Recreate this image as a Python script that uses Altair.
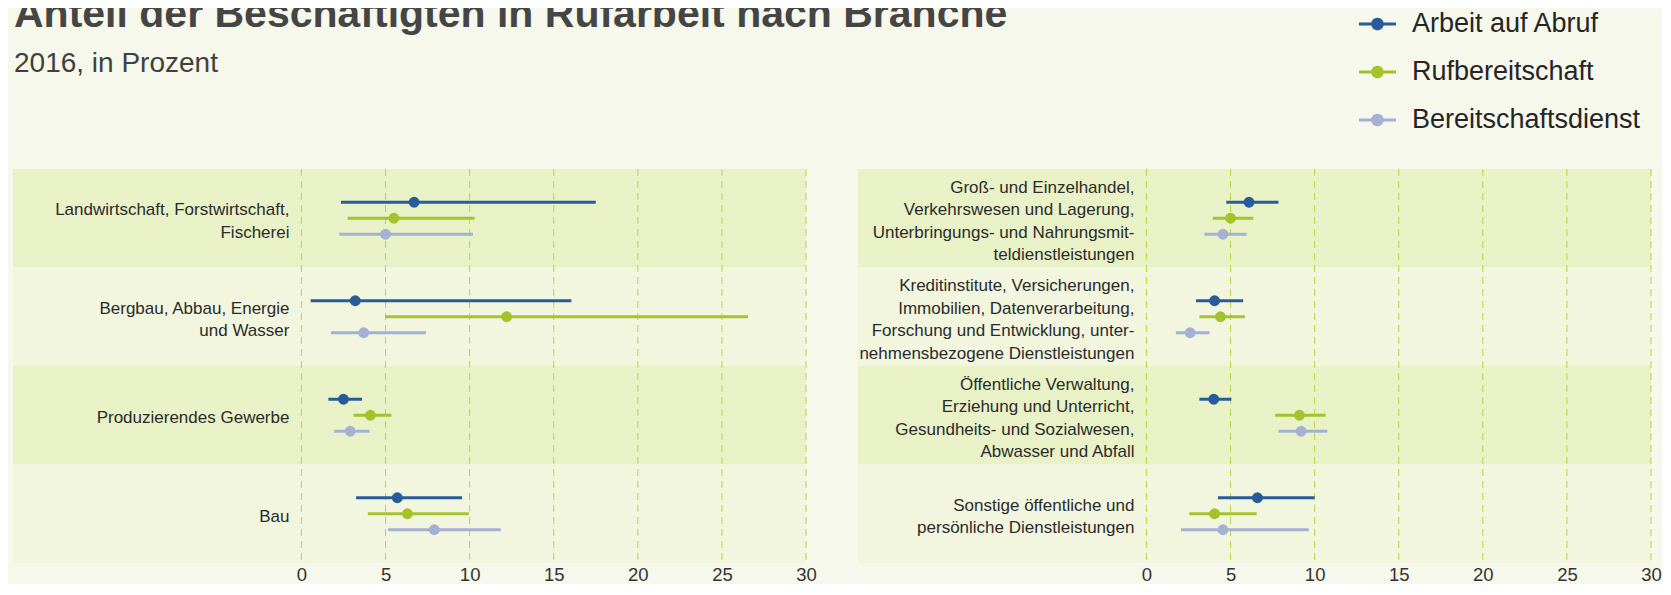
import altair as alt
import pandas as pd

FONT = "Liberation Sans"

# ---- data ----
serien = ["Arbeit auf Abruf", "Rufbereitschaft", "Bereitschaftsdienst"]
farben = ["#275b9a", "#a5c22c", "#a4b1d5"]

branchen_links = [
    "Landwirtschaft, Forstwirtschaft,|Fischerei",
    "Bergbau, Abbau, Energie|und Wasser",
    "Produzierendes Gewerbe",
    "Bau",
]
branchen_rechts = [
    "Groß- und Einzelhandel,|Verkehrswesen und Lagerung,|Unterbringungs- und Nahrungsmit-|teldienstleistungen",
    "Kreditinstitute, Versicherungen,|Immobilien, Datenverarbeitung,|Forschung und Entwicklung, unter-|nehmensbezogene Dienstleistungen",
    "Öffentliche Verwaltung,|Erziehung und Unterricht,|Gesundheits- und Sozialwesen,|Abwasser und Abfall",
    "Sonstige öffentliche und|persönliche Dienstleistungen",
]

# order: 4 left branches, then 4 right branches
abruf_wert  = [6.7, 3.2, 2.5, 5.7, 6.1, 4.05, 4.0, 6.6]
abruf_unten = [2.35, 0.55, 1.6, 3.25, 4.75, 2.95, 3.15, 4.25]
abruf_oben  = [17.5, 16.05, 3.6, 9.55, 7.85, 5.75, 5.05, 10.0]

ruf_wert  = [5.5, 12.2, 4.1, 6.3, 5.0, 4.4, 9.1, 4.05]
ruf_unten = [2.75, 5.0, 3.1, 3.95, 3.95, 3.15, 7.65, 2.55]
ruf_oben  = [10.3, 26.55, 5.35, 9.95, 6.35, 5.85, 10.65, 6.55]

dienst_wert  = [5.0, 3.7, 2.9, 7.9, 4.55, 2.6, 9.2, 4.55]
dienst_unten = [2.25, 1.75, 1.95, 5.15, 3.45, 1.75, 7.85, 2.05]
dienst_oben  = [10.2, 7.4, 4.05, 11.85, 5.95, 3.75, 10.75, 9.65]

ticks = [0, 5, 10, 15, 20, 25, 30]

# ---- tables ----
branchen = branchen_links + branchen_rechts
rows = []
for serie, w, u, o in zip(
    serien,
    [abruf_wert, ruf_wert, dienst_wert],
    [abruf_unten, ruf_unten, dienst_unten],
    [abruf_oben, ruf_oben, dienst_oben],
):
    for b, wi, ui, oi in zip(branchen, w, u, o):
        rows.append({"branche": b, "serie": serie, "wert": wi, "unten": ui, "oben": oi})
df = pd.DataFrame(rows)

x_scale = alt.Scale(domain=[-17.15, 30], nice=False, zero=False)
x_axis = alt.Axis(
    values=ticks, domain=False, ticks=False, tickSize=0, grid=False,
    labelFontSize=18.5, labelColor="#333333", labelPadding=2, labelFlush=False,
    labelOverlap=False, title=None, format="d", labelFont=FONT,
)
color_scale = alt.Scale(domain=serien, range=farben)
legend = alt.Legend(
    orient="none", legendX=1346, legendY=-163.5, direction="vertical", title=None,
    symbolType="M-1,-0.08H1V0.08H-1Z M0.34,0A0.34,0.34,0,1,1,-0.34,0A0.34,0.34,0,1,1,0.34,0Z",
    symbolSize=1369, symbolStrokeWidth=0, symbolOpacity=1,
    labelFont=FONT, labelFontSize=27, labelColor="#252525", labelOffset=16,
    labelLimit=500, rowPadding=16,
)

W, H = 793, 394


def panel(names):
    d = df[df["branche"].isin(names)]
    bands = pd.DataFrame({"branche": names, "streifen": [i % 2 for i in range(len(names))]})
    y = alt.Y("branche:N", sort=names, scale=alt.Scale(paddingInner=0, paddingOuter=0), axis=None)
    yoff = alt.YOffset("serie:N", sort=serien, scale=alt.Scale(paddingInner=0, paddingOuter=0, range=[25.25, 73.25]))

    band_layer = alt.Chart(bands).mark_rect().encode(
        y=y,
        x=alt.value(0),
        x2=alt.value("width"),
        fill=alt.Fill("streifen:O", scale=alt.Scale(domain=[0, 1], range=["#e9f1c7", "#f2f6df"]), legend=None),
    )
    label_layer = alt.Chart(bands).mark_text(
        align="right", baseline="middle", lineBreak="|", font=FONT, fontSize=17,
        lineHeight=22.5, color="#2b2b2b", dx=-12,
        dy={"expr": "3 - (length(split(datum.branche, '|')) - 1) * 11.25"},
    ).encode(
        y=y,
        x=alt.datum(0, scale=x_scale, axis=x_axis),
        text="branche:N",
    )
    grid_layer = alt.Chart(pd.DataFrame({"t": ticks})).mark_rule(
        color="#bcd630", strokeDash=[7, 5], strokeWidth=1
    ).encode(x=alt.X("t:Q", scale=x_scale, axis=x_axis))
    rule_layer = alt.Chart(d).mark_rule(strokeWidth=3, strokeCap="butt").encode(
        x=alt.X("unten:Q", scale=x_scale, axis=x_axis),
        x2="oben:Q",
        y=y,
        yOffset=yoff,
        color=alt.Color("serie:N", scale=color_scale, legend=legend),
    )
    point_layer = alt.Chart(d).mark_point(filled=True, size=120, opacity=1).encode(
        x=alt.X("wert:Q", scale=x_scale, axis=x_axis),
        y=y,
        yOffset=yoff,
        color=alt.Color("serie:N", scale=color_scale, legend=legend),
    )
    return alt.layer(band_layer, grid_layer, label_layer, rule_layer, point_layer).properties(width=W, height=H)


chart = alt.hconcat(panel(branchen_links), panel(branchen_rechts), spacing=41).resolve_scale(
    color="shared", x="independent", y="independent"
).properties(
    title=alt.TitleParams(
        text="Anteil der Beschäftigten in Rufarbeit nach Branche",
        subtitle="2016, in Prozent",
        anchor="start", frame="group",
        font=FONT, fontSize=41, fontWeight="bold", color="#454545",
        subtitleFont=FONT, subtitleFontSize=28, subtitleColor="#404040",
        subtitlePadding=14, offset=-73, dx=1,
    ),
    background="#f5f8ea",
    padding={"left": 5, "top": -15, "right": 0, "bottom": 0},
).configure_view(stroke=None)

chart.save("out.html", embed_options={"renderer": "svg", "actions": False})
